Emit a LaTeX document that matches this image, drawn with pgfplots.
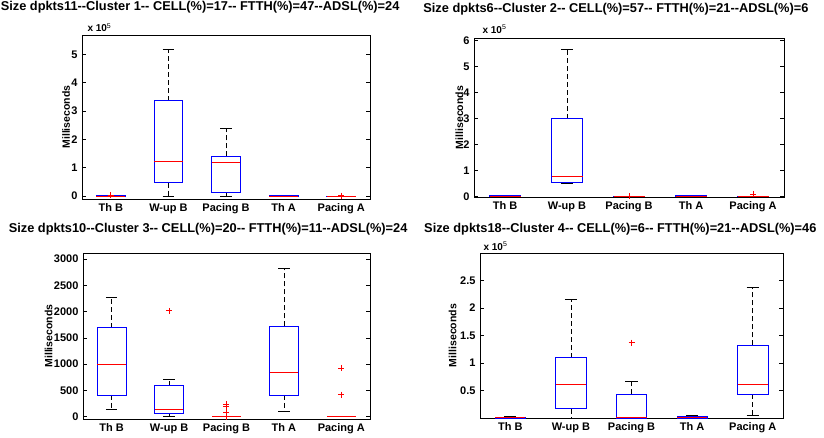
\documentclass[border=0pt]{standalone}
\usepackage{fontspec}
\setmainfont{Liberation Sans}
\usepackage{pgfplots}
\pgfplotsset{compat=1.18}
\usepgfplotslibrary{statistics}

\pgfplotsset{
  mlbox/.style={
    scale only axis,
    clip=false,
    xmin=0.5, xmax=5.5,
    xtick={1,2,3,4,5},
    xticklabels={Th B, W-up B, Pacing B, Th A, Pacing A},
    major x tick style={draw=none},
    ytick pos=both,
    tick align=inside,
    major tick length=4pt,
    axis line style={line width=0.8pt},
    every tick/.style={black, line width=0.6pt},
    tick label style={font=\bfseries\fontsize{11}{12}\selectfont},
    xticklabel style={yshift=-1pt},
    yticklabel style={xshift=-1pt},
    label style={font=\bfseries\fontsize{10.5}{12}\selectfont},
    title style={font=\bfseries\fontsize{12.8}{14}\selectfont, anchor=base east},
    ylabel={Milliseconds},
    ylabel style={anchor=center},
    /pgf/number format/assume math mode=true,
    /pgf/number format/1000 sep={},
    boxplot/draw direction=y,
    boxplot/box extend=0.5,
    boxplot/whisker extend=0.2,
    boxplot/every box/.style={draw=blue, line width=0.7pt},
    boxplot/every median/.style={draw=red, line width=0.7pt},
    boxplot/draw/lower whisker/.code={
      \draw[black, line width=0.6pt, dash pattern=on 5pt off 3pt]
        (boxplot cs:\pgfplotsboxplotvalue{lower quartile}) -- (boxplot cs:\pgfplotsboxplotvalue{lower whisker});
      \draw[black, line width=0.6pt]
        (boxplot whisker cs:\pgfplotsboxplotvalue{lower whisker},0) -- (boxplot whisker cs:\pgfplotsboxplotvalue{lower whisker},1);
    },
    boxplot/draw/upper whisker/.code={
      \draw[black, line width=0.6pt, dash pattern=on 5pt off 3pt]
        (boxplot cs:\pgfplotsboxplotvalue{upper quartile}) -- (boxplot cs:\pgfplotsboxplotvalue{upper whisker});
      \draw[black, line width=0.6pt]
        (boxplot whisker cs:\pgfplotsboxplotvalue{upper whisker},0) -- (boxplot whisker cs:\pgfplotsboxplotvalue{upper whisker},1);
    },
  },
  bx/.style={red, mark=+, mark size=3pt, mark options={solid, line width=0.7pt}},
}
\newcommand{\expo}{\node[anchor=base west, font=\bfseries\fontsize{10}{11}\selectfont]}

\begin{document}
\begin{tikzpicture}
\path[use as bounding box] (0pt,0pt) rectangle (824pt,437pt);

% Cluster 1
\begin{axis}[mlbox, at={(82pt,238pt)}, anchor=south west, width=288pt, height=164pt,
  ymin=-0.1, ymax=5.68, ytick={0,1,2,3,4,5},
  ylabel style={at={(axis description cs:-0.055,0.5)}},
  title={Size dpkts11-{}-Cluster 1-{}- CELL(\%)=17-{}- FTTH(\%)=47-{}-ADSL(\%)=24},
  title style={at={(axis description cs:1,1)}, xshift=33pt, yshift=18pt}]
\addplot[bx, boxplot prepared={lower whisker=0, lower quartile=0, median=0.005, upper quartile=0.03, upper whisker=0.04, draw position=1}] coordinates {(0,0.03)};
\addplot[bx, boxplot prepared={lower whisker=0, lower quartile=0.48, median=1.23, upper quartile=3.36, upper whisker=5.17, draw position=2}] coordinates {};
\addplot[bx, boxplot prepared={lower whisker=0.01, lower quartile=0.14, median=1.2, upper quartile=1.40, upper whisker=2.38, draw position=3}] coordinates {};
\addplot[bx, boxplot prepared={lower whisker=0, lower quartile=0, median=0.005, upper quartile=0.03, upper whisker=0.03, draw position=4}] coordinates {};
\addplot[bx, boxplot prepared={lower whisker=0, lower quartile=0, median=0, upper quartile=0.005, upper whisker=0.005, draw position=5}] coordinates {(0,0.02)};
\expo at (rel axis cs:0,1) [xshift=2pt, yshift=3pt] {x 10\textsuperscript{\mdseries 5}};
\end{axis}

% Cluster 2
\begin{axis}[mlbox, at={(474pt,240pt)}, anchor=south west, width=310pt, height=159pt,
  ymin=-0.02, ymax=6.1, ytick={0,1,2,3,4,5,6},
  ylabel style={at={(axis description cs:-0.047,0.5)}},
  title={Size dpkts6-{}-Cluster 2-{}- CELL(\%)=57-{}- FTTH(\%)=21-{}-ADSL(\%)=6},
  title style={at={(axis description cs:1,1)}, xshift=28pt, yshift=20pt}]
\addplot[bx, boxplot prepared={lower whisker=0, lower quartile=0, median=0.01, upper quartile=0.04, upper whisker=0.05, draw position=1}] coordinates {};
\addplot[bx, boxplot prepared={lower whisker=0.52, lower quartile=0.55, median=0.79, upper quartile=3.0, upper whisker=5.66, draw position=2}] coordinates {};
\addplot[bx, boxplot prepared={lower whisker=0, lower quartile=0, median=0.005, upper quartile=0.02, upper whisker=0.02, draw position=3}] coordinates {(0,0.01)};
\addplot[bx, boxplot prepared={lower whisker=0, lower quartile=0, median=0.01, upper quartile=0.04, upper whisker=0.05, draw position=4}] coordinates {};
\addplot[bx, boxplot prepared={lower whisker=0, lower quartile=0, median=0.005, upper quartile=0.02, upper whisker=0.02, draw position=5}] coordinates {(0,0.1)};
\expo at (rel axis cs:0,1) [xshift=5pt, yshift=5pt] {x 10\textsuperscript{\mdseries 5}};
\end{axis}

% Cluster 3
\begin{axis}[mlbox, at={(83pt,18pt)}, anchor=south west, width=287pt, height=166pt,
  ymin=-45, ymax=3115, ytick={0,500,1000,1500,2000,2500,3000},
  ylabel style={at={(axis description cs:-0.12,0.5)}},
  title={Size dpkts10-{}-Cluster 3-{}- CELL(\%)=20-{}- FTTH(\%)=11-{}-ADSL(\%)=24},
  title style={at={(axis description cs:1,1)}, xshift=41pt, yshift=14.5pt}]
\addplot[bx, boxplot prepared={lower whisker=140, lower quartile=413, median=998, upper quartile=1691, upper whisker=2270, draw position=1}] coordinates {};
\addplot[bx, boxplot prepared={lower whisker=5, lower quartile=65, median=147, upper quartile=591, upper whisker=718, draw position=2}] coordinates {(0,2015)};
\addplot[bx, boxplot prepared={lower whisker=0, lower quartile=0, median=0, upper quartile=12, upper whisker=12, draw position=3}] coordinates {(0,236) (0,205) (0,84) (0,0)};
\addplot[bx, boxplot prepared={lower whisker=103, lower quartile=413, median=852, upper quartile=1716, upper whisker=2829, draw position=4}] coordinates {};
\addplot[bx, boxplot prepared={lower whisker=0, lower quartile=0, median=0, upper quartile=12, upper whisker=12, draw position=5}] coordinates {(0,928) (0,420)};
\end{axis}

% Cluster 4
\begin{axis}[mlbox, at={(480pt,19pt)}, anchor=south west, width=303pt, height=165pt,
  ymin=0.002, ymax=3.0, ytick={0.5,1,1.5,2,2.5},
  ylabel style={at={(axis description cs:-0.09,0.5)}},
  title={Size dpkts18-{}-Cluster 4-{}- CELL(\%)=6-{}- FTTH(\%)=21-{}-ADSL(\%)=46},
  title style={at={(axis description cs:1,1)}, xshift=37pt, yshift=15pt}]
\addplot[bx, boxplot prepared={lower whisker=0, lower quartile=0, median=0.005, upper quartile=0.02, upper whisker=0.03, draw position=1}] coordinates {};
\addplot[bx, boxplot prepared={lower whisker=0, lower quartile=0.17, median=0.61, upper quartile=1.10, upper whisker=2.15, draw position=2}] coordinates {};
\addplot[bx, boxplot prepared={lower whisker=0, lower quartile=0, median=0.005, upper quartile=0.43, upper whisker=0.66, draw position=3}] coordinates {(0,1.37)};
\addplot[bx, boxplot prepared={lower whisker=0, lower quartile=0, median=0.005, upper quartile=0.03, upper whisker=0.05, draw position=4}] coordinates {};
\addplot[bx, boxplot prepared={lower whisker=0.05, lower quartile=0.43, median=0.61, upper quartile=1.32, upper whisker=2.37, draw position=5}] coordinates {};
\expo at (rel axis cs:0,1) [xshift=0pt, yshift=2.6pt] {x 10\textsuperscript{\mdseries 5}};
\end{axis}
\end{tikzpicture}
\end{document}
